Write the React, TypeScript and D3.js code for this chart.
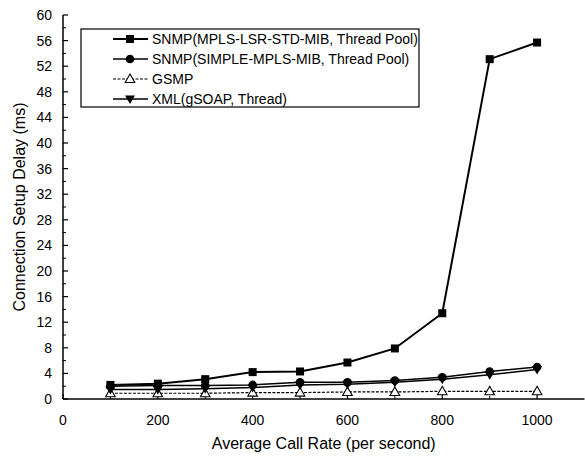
import React from "react";
import * as d3 from "d3";

const rates = [100, 200, 300, 400, 500, 600, 700, 800, 900, 1000];
const snmpStd = [2.2, 2.4, 3.1, 4.2, 4.3, 5.7, 7.9, 13.4, 53.1, 55.7];
const snmpSimple = [2.0, 2.1, 2.1, 2.2, 2.6, 2.6, 2.9, 3.4, 4.3, 5.0];
const gsmp = [0.9, 0.9, 0.9, 1.0, 1.0, 1.1, 1.1, 1.2, 1.2, 1.2];
const xmlSoap = [1.5, 1.5, 1.6, 1.8, 2.2, 2.3, 2.6, 3.1, 3.8, 4.6];

const seriesNames = [
  "SNMP(MPLS-LSR-STD-MIB, Thread Pool)",
  "SNMP(SIMPLE-MPLS-MIB, Thread Pool)",
  "GSMP",
  "XML(gSOAP, Thread)",
];
const xTicks = [0, 200, 400, 600, 800, 1000];
const yTicks = d3.range(0, 61, 4);

const W = 585, H = 460;
const x = d3.scaleLinear().domain([0, 1100]).range([63, 584.5]);
const y = d3.scaleLinear().domain([0, 60]).range([399, 15]);

type Marker = "square" | "circle" | "triUp" | "triDown";

function MarkerShape({ kind, cx, cy }: { kind: Marker; cx: number; cy: number }) {
  if (kind === "square") return <rect x={cx - 4} y={cy - 4} width={8} height={8} fill="#000" />;
  if (kind === "circle") return <circle cx={cx} cy={cy} r={4.3} fill="#000" />;
  if (kind === "triUp")
    return (
      <path
        d={`M${cx},${cy - 5} L${cx + 4.8},${cy + 3.5} L${cx - 4.8},${cy + 3.5} Z`}
        fill="#fff"
        stroke="#000"
        strokeWidth={1.1}
      />
    );
  return <path d={`M${cx - 5},${cy - 3.5} L${cx + 5},${cy - 3.5} L${cx},${cy + 5} Z`} fill="#000" />;
}

const series: { name: string; values: number[]; marker: Marker; width: number; dash?: string }[] = [
  { name: seriesNames[0], values: snmpStd, marker: "square", width: 2 },
  { name: seriesNames[1], values: snmpSimple, marker: "circle", width: 1.5 },
  { name: seriesNames[2], values: gsmp, marker: "triUp", width: 1.2, dash: "3,1.5" },
  { name: seriesNames[3], values: xmlSoap, marker: "triDown", width: 1.5 },
];

export default function App() {
  const line = d3
    .line<number>()
    .x((_, i) => x(rates[i]))
    .y((d) => y(d));
  const minorY = d3.range(2, 60, 4);
  const minorX = d3.range(100, 1100, 200);
  const font = "'Liberation Sans', Arial, sans-serif";
  return (
    <svg width={W} height={H} style={{ position: "absolute", left: 0, top: 0, background: "#fff" }}>
      <rect width={W} height={H} fill="#fff" />
      {/* axes */}
      <line x1={x(0)} x2={x(0)} y1={y(60)} y2={y(0)} stroke="#000" strokeWidth={1.5} />
      <line x1={x(0)} x2={x(1100)} y1={y(0)} y2={y(0)} stroke="#000" strokeWidth={1.5} />
      {yTicks.map((t) => (
        <g key={"y" + t}>
          <line x1={x(0)} x2={x(0) + 5} y1={y(t)} y2={y(t)} stroke="#000" strokeWidth={1.2} />
          <text x={52} y={y(t)} dy="0.35em" textAnchor="end" fontSize={14} fontFamily={font}>
            {t}
          </text>
        </g>
      ))}
      {minorY.map((t) => (
        <line key={"ym" + t} x1={x(0)} x2={x(0) + 3} y1={y(t)} y2={y(t)} stroke="#000" strokeWidth={1} />
      ))}
      {xTicks.map((t) => (
        <g key={"x" + t}>
          <line x1={x(t)} x2={x(t)} y1={y(0)} y2={y(0) - 5} stroke="#000" strokeWidth={1.2} />
          <text x={x(t)} y={420} dy="0.35em" textAnchor="middle" fontSize={14} fontFamily={font}>
            {t}
          </text>
        </g>
      ))}
      {minorX.map((t) => (
        <line key={"xm" + t} x1={x(t)} x2={x(t)} y1={y(0)} y2={y(0) - 3} stroke="#000" strokeWidth={1} />
      ))}
      <text
        transform={`translate(19,${(y(0) + y(60)) / 2}) rotate(-90)`}
        textAnchor="middle"
        dy="0.35em"
        fontSize={16}
        fontFamily={font}
      >
        Connection Setup Delay (ms)
      </text>
      <text x={(x(0) + x(1100)) / 2} y={443} textAnchor="middle" dy="0.35em" fontSize={16} fontFamily={font}>
        Average Call Rate (per second)
      </text>
      {/* series */}
      {series.map((s) => (
        <g key={s.name}>
          <path d={line(s.values) || ""} fill="none" stroke="#000" strokeWidth={s.width} strokeDasharray={s.dash} />
          {s.values.map((v, i) => (
            <MarkerShape key={i} kind={s.marker} cx={x(rates[i])} cy={y(v)} />
          ))}
        </g>
      ))}
      {/* legend */}
      <rect x={81} y={29} width={338} height={78} fill="#fff" stroke="#000" strokeWidth={1.2} />
      {series.map((s, i) => {
        const cy = 39 + i * 20;
        return (
          <g key={"lg" + i}>
            <line x1={113} x2={148} y1={cy} y2={cy} stroke="#000" strokeWidth={s.width} strokeDasharray={s.dash} />
            <MarkerShape kind={s.marker} cx={130} cy={cy} />
            <text x={152} y={cy} dy="0.35em" fontSize={14} fontFamily={font}>
              {s.name}
            </text>
          </g>
        );
      })}
    </svg>
  );
}
